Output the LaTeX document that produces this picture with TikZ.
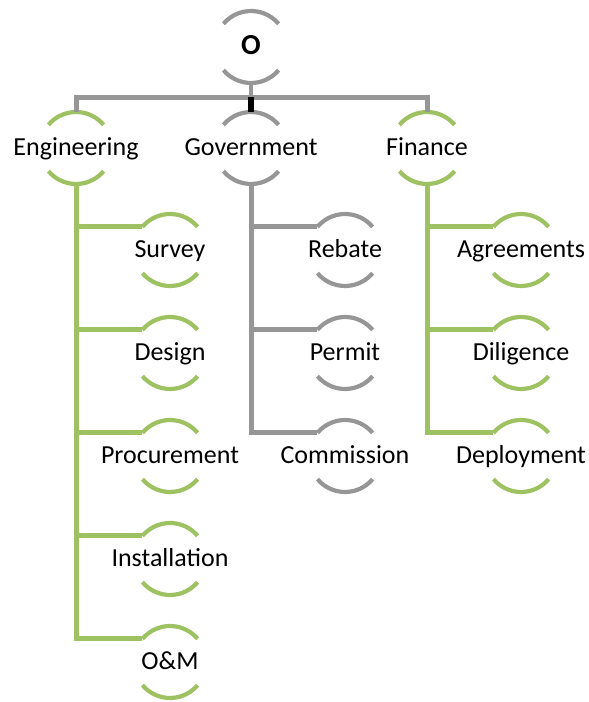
\documentclass[tikz,border=0pt]{standalone}
\usepackage{fontspec}
\setmainfont{Carlito}
\usetikzlibrary{calc}
\definecolor{ogreen}{RGB}{158,194,98}
\definecolor{ogrey}{RGB}{150,150,150}
\tikzset{
  lbl/.style={inner sep=0pt, text height=16pt, text depth=0pt, font=\fontsize{26}{30}\selectfont, text=black},
  arcline/.style={line width=4.2pt},
  trunk/.style={line width=5pt, line join=miter},
}
\newcommand\branchnode[4]{%
  \node[lbl] (#1) at (#2) {#4};
  \coordinate (#1-t) at ([yshift=36pt]#1.center);
  \coordinate (#1-b) at ([yshift=-36pt]#1.center);
  \coordinate (#1-l) at ([shift={(140:36pt)}]#1.center);
  \draw[arcline,#3] (#1-l) arc[start angle=140, end angle=40, radius=36pt];
  \draw[arcline,#3] ([shift={(220:36pt)}]#1.center) arc[start angle=220, end angle=320, radius=36pt];
}
\begin{document}
\begin{tikzpicture}[x=1pt,y=1pt]
\useasboundingbox (0,0) rectangle (589,702);
% root and top level
\branchnode{o}{251,655}{ogrey}{\fontsize{29}{32}\selectfont\textbf{O}}
\branchnode{eng}{76,554}{ogreen}{Engineering}
\branchnode{gov}{251,554}{ogrey}{Government}
\branchnode{fin}{427,554}{ogreen}{Finance}
% engineering children
\branchnode{survey}{170,452}{ogreen}{Survey}
\branchnode{design}{170,349}{ogreen}{Design}
\branchnode{proc}{170,246}{ogreen}{Procurement}
\branchnode{inst}{170,143}{ogreen}{Installation}
\branchnode{om}{170,40}{ogreen}{O\&M}
% government children
\branchnode{rebate}{345,452}{ogrey}{Rebate}
\branchnode{permit}{345,349}{ogrey}{Permit}
\branchnode{comm}{345,246}{ogrey}{Commission}
% finance children
\branchnode{agree}{521,452}{ogreen}{Agreements}
\branchnode{dili}{521,349}{ogreen}{Diligence}
\branchnode{deploy}{521,246}{ogreen}{Deployment}
% top connectors
\coordinate (bar) at ($(o-b)!0.5!(gov-t)$);
\draw[ogrey, line width=3.2pt] (o-b) -- (bar);
\draw[ogrey, trunk] (eng-t) |- (bar) -| (fin-t);
\draw[black, line width=5.5pt] (bar) -- (gov-t);
% engineering branches
\foreach \c in {survey,design,proc,inst,om}
  \draw[ogreen, trunk] (eng-b) |- (\c-l);
% government branches
\foreach \c in {rebate,permit,comm}
  \draw[ogrey, trunk] (gov-b) |- (\c-l);
% finance branches
\foreach \c in {agree,dili,deploy}
  \draw[ogreen, trunk] (fin-b) |- (\c-l);
\end{tikzpicture}
\end{document}
